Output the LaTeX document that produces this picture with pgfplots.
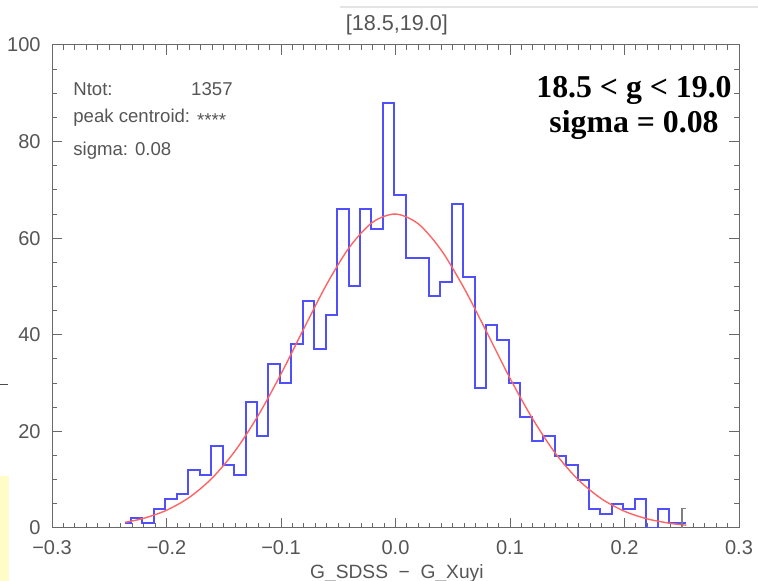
\documentclass[border=0pt]{standalone}
\usepackage{fontspec}
\setmainfont{Liberation Sans}
\newfontfamily\serifbf{Liberation Serif}
\usepackage{pgfplots}
\pgfplotsset{compat=1.18}
\definecolor{histblue}{RGB}{80,80,250}
\definecolor{fitred}{RGB}{255,100,100}
\definecolor{axgray}{RGB}{105,105,105}
\definecolor{txtgray}{RGB}{85,85,85}
\begin{document}
\begin{tikzpicture}
\path[use as bounding box] (-26pt,-26.5pt) rectangle (353pt,264pt);
% screenshot leftovers
\fill[yellow!22] (-26pt,26pt) rectangle (-21.5pt,-26.5pt);
\draw[blue!6!gray!20, line width=1pt] (144pt,260.5pt) -- (353pt,260.5pt);
\draw[black!70, line width=0.5pt] (-26pt,71.5pt) -- (-22pt,71.5pt);
\begin{axis}[
  at={(0,0)}, anchor=south west, scale only axis,
  width=343.5pt, height=241.5pt,
  xmin=-0.3, xmax=0.3, ymin=0, ymax=100,
  clip mode=individual,
  xtick={-0.3,-0.2,-0.1,0,0.1,0.2,0.3},
  xticklabels={−0.3,−0.2,−0.1,0.0,0.1,0.2,0.3},
  ytick={0,20,40,60,80,100},
  yticklabels={0,20,40,60,80,100},
  minor x tick num=9, minor y tick num=3,
  tick align=inside, xtick pos=both, ytick pos=both,
  major tick length=5pt, minor tick length=2.5pt,
  axis line style={axgray, line width=0.5pt},
  tick style={axgray, line width=0.5pt},
  ticklabel style={font=\fontsize{10}{12}\selectfont, text=txtgray},
  xticklabel style={anchor=base, yshift=-13.2pt},
  yticklabel style={anchor=east, inner sep=0pt, xshift=-5.5pt},
]
% histogram, bin centres every 0.01
\addplot[histblue, line width=1pt, const plot mark mid] coordinates {
(-0.236,1)(-0.226,2)(-0.216,1)(-0.206,4)(-0.196,6)(-0.186,7)(-0.176,12)(-0.166,11)
(-0.156,17)(-0.146,13)(-0.136,11)(-0.126,26)(-0.116,19)(-0.106,34)(-0.096,30)
(-0.086,38)(-0.076,47)(-0.066,37)(-0.056,44)(-0.046,66)(-0.036,50)(-0.026,66)
(-0.016,62)(-0.006,88)(0.004,69)(0.014,56)(0.024,56)(0.034,48)(0.044,51)
(0.054,67)(0.064,52)(0.074,29)(0.084,42)(0.094,39)(0.104,30)(0.114,23)
(0.124,18)(0.134,19)(0.144,15)(0.154,13)(0.164,10)(0.174,4)(0.184,3)
(0.194,5)(0.204,4)(0.214,6)(0.224,0)(0.234,4)(0.244,1)(0.254,1)};
% gaussian fit
\addplot[fitred, line width=0.7pt, smooth] coordinates {
(-0.236,1.18)(-0.22,2.0)(-0.20,3.67)(-0.18,6.35)(-0.16,10.37)(-0.14,15.99)
(-0.12,23.26)(-0.10,31.9)(-0.08,41.3)(-0.06,50.5)(-0.04,58.2)(-0.02,63.3)
(0.00,65.0)(0.02,62.95)(0.04,57.5)(0.06,49.6)(0.08,40.4)(0.10,31.0)
(0.12,22.5)(0.14,15.35)(0.16,9.9)(0.18,6.03)(0.20,3.46)(0.22,1.88)
(0.24,0.96)(0.254,0.58)};
\addplot[gray, line width=0.8pt] coordinates {(0.250,0)(0.250,4)(0.254,4)};
% text block
\begin{scope}[every node/.style={inner sep=0pt, font=\fontsize{9.3}{11}\selectfont, text=txtgray}]
\node[anchor=base west] at (axis cs:-0.2817,89.6) {Ntot:};
\node[anchor=base east] at (axis cs:-0.1419,89.6) {1357};
\node[anchor=base west] at (axis cs:-0.2817,83.85) {peak centroid: \raisebox{-0.35ex}{****}};
\node[anchor=base west] at (axis cs:-0.2817,77.2) {sigma: 0.08};
\end{scope}
\node[anchor=base, font=\serifbf\bfseries\fontsize{15.9}{17}\selectfont] at (axis cs:0.2083,89.2) {18.5 < g < 19.0};
\node[anchor=base, font=\serifbf\bfseries\fontsize{15.9}{17}\selectfont] at (axis cs:0.2083,81.9) {sigma = 0.08};
\node[anchor=base, yshift=7pt, font=\fontsize{10.8}{12}\selectfont, text=txtgray] at (rel axis cs:0.502,1) {[18.5,19.0]};
\node[anchor=base, yshift=-25.5pt, font=\fontsize{9.6}{11}\selectfont, text=txtgray] at (rel axis cs:0.502,0) {G\_SDSS\ \ −\ \ G\_Xuyi};
\end{axis}
\end{tikzpicture}
\end{document}
